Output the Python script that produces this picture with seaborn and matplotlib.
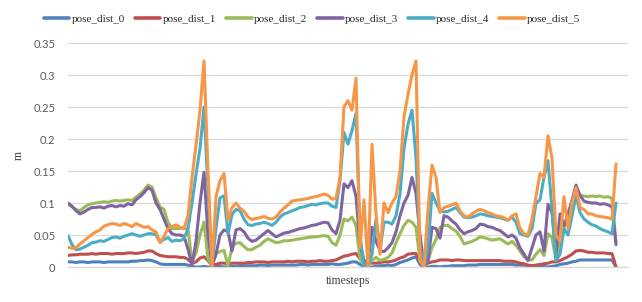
import numpy as np
import pandas as pd
import matplotlib.pyplot as plt
import seaborn as sns

# -------- Data (one value per ~4 px step) --------
pose_dist_0 = [
    0.008, 0.008, 0.007, 0.008, 0.008, 0.007, 0.008, 0.008, 0.008, 0.007,
    0.008, 0.008, 0.008, 0.008, 0.008, 0.008, 0.009, 0.009, 0.010, 0.010,
    0.011, 0.010, 0.008, 0.005, 0.004, 0.004, 0.004, 0.004, 0.004, 0.004,
    0.003, 0.001, 0.000, 0.000, 0.001, 0.000, 0.000, 0.001, 0.001, 0.000,
    0.000, 0.001, 0.001, 0.002, 0.002, 0.002, 0.002, 0.002, 0.003, 0.003,
    0.002, 0.003, 0.003, 0.003, 0.003, 0.003, 0.003, 0.003, 0.004, 0.004,
    0.003, 0.004, 0.004, 0.004, 0.004, 0.004, 0.005, 0.004, 0.004, 0.005,
    0.006, 0.008, 0.008, 0.004, 0.001, 0.000, 0.000, 0.001, 0.002, 0.002,
    0.003, 0.002, 0.004, 0.007, 0.009, 0.011, 0.014, 0.016, 0.004, 0.000,
    0.000, 0.001, 0.001, 0.000, 0.001, 0.001, 0.002, 0.002, 0.002, 0.002,
    0.003, 0.003, 0.003, 0.004, 0.004, 0.004, 0.004, 0.004, 0.004, 0.004,
    0.004, 0.004, 0.003, 0.003, 0.003, 0.002, 0.002, 0.002, 0.001, 0.001,
    0.000, 0.001, 0.002, 0.004, 0.005, 0.006, 0.008, 0.009, 0.011, 0.011,
    0.011, 0.011, 0.011, 0.011, 0.011, 0.011, 0.011, 0.000,
]
pose_dist_1 = [
    0.018, 0.019, 0.019, 0.020, 0.020, 0.020, 0.021, 0.020, 0.021, 0.021,
    0.021, 0.020, 0.021, 0.021, 0.021, 0.022, 0.022, 0.021, 0.022, 0.023,
    0.025, 0.025, 0.021, 0.018, 0.017, 0.016, 0.016, 0.016, 0.015, 0.015,
    0.012, 0.006, 0.008, 0.014, 0.016, 0.010, 0.003, 0.004, 0.006, 0.006,
    0.005, 0.006, 0.006, 0.006, 0.006, 0.007, 0.007, 0.008, 0.008, 0.008,
    0.007, 0.008, 0.008, 0.008, 0.008, 0.009, 0.008, 0.009, 0.009, 0.009,
    0.008, 0.009, 0.009, 0.010, 0.009, 0.009, 0.010, 0.011, 0.014, 0.017,
    0.018, 0.020, 0.021, 0.013, 0.010, 0.008, 0.006, 0.006, 0.007, 0.008,
    0.008, 0.009, 0.011, 0.014, 0.016, 0.020, 0.021, 0.021, 0.008, 0.004,
    0.006, 0.008, 0.009, 0.011, 0.011, 0.011, 0.010, 0.011, 0.011, 0.010,
    0.010, 0.010, 0.010, 0.010, 0.010, 0.010, 0.010, 0.010, 0.010, 0.009,
    0.009, 0.009, 0.008, 0.006, 0.005, 0.003, 0.002, 0.003, 0.004, 0.005,
    0.006, 0.008, 0.008, 0.010, 0.013, 0.016, 0.020, 0.025, 0.026, 0.025,
    0.023, 0.023, 0.022, 0.022, 0.022, 0.021, 0.021, 0.000,
]
pose_dist_2 = [
    0.098, 0.094, 0.090, 0.088, 0.093, 0.097, 0.099, 0.100, 0.101, 0.102,
    0.101, 0.103, 0.104, 0.103, 0.104, 0.105, 0.104, 0.109, 0.114, 0.120,
    0.128, 0.125, 0.108, 0.094, 0.090, 0.070, 0.060, 0.060, 0.060, 0.062,
    0.058, 0.010, 0.022, 0.050, 0.070, 0.012, 0.004, 0.021, 0.024, 0.026,
    0.002, 0.031, 0.037, 0.038, 0.032, 0.027, 0.027, 0.031, 0.034, 0.040,
    0.044, 0.041, 0.038, 0.039, 0.041, 0.041, 0.042, 0.043, 0.044, 0.045,
    0.046, 0.047, 0.047, 0.048, 0.049, 0.048, 0.038, 0.034, 0.050, 0.075,
    0.072, 0.078, 0.065, 0.012, 0.003, 0.005, 0.010, 0.015, 0.010, 0.012,
    0.015, 0.022, 0.038, 0.052, 0.065, 0.073, 0.070, 0.062, 0.010, 0.000,
    0.010, 0.030, 0.043, 0.062, 0.065, 0.065, 0.060, 0.056, 0.048, 0.036,
    0.038, 0.040, 0.043, 0.047, 0.046, 0.044, 0.042, 0.043, 0.044, 0.040,
    0.036, 0.040, 0.034, 0.025, 0.016, 0.012, 0.011, 0.020, 0.027, 0.018,
    0.052, 0.046, 0.010, 0.047, 0.062, 0.075, 0.090, 0.108, 0.112, 0.111,
    0.110, 0.111, 0.110, 0.111, 0.109, 0.110, 0.107, 0.038,
]
pose_dist_3 = [
    0.100, 0.095, 0.088, 0.083, 0.086, 0.090, 0.093, 0.093, 0.094, 0.092,
    0.095, 0.096, 0.094, 0.096, 0.095, 0.099, 0.097, 0.105, 0.110, 0.116,
    0.124, 0.120, 0.100, 0.090, 0.075, 0.060, 0.052, 0.050, 0.050, 0.048,
    0.028, 0.003, 0.040, 0.100, 0.148, 0.050, 0.002, 0.020, 0.050, 0.058,
    0.055, 0.025, 0.058, 0.060, 0.055, 0.045, 0.040, 0.042, 0.047, 0.052,
    0.057, 0.052, 0.047, 0.050, 0.053, 0.054, 0.056, 0.058, 0.060, 0.061,
    0.063, 0.065, 0.066, 0.068, 0.070, 0.069, 0.058, 0.052, 0.073, 0.130,
    0.124, 0.135, 0.110, 0.035, 0.010, 0.006, 0.062, 0.040, 0.026, 0.024,
    0.030, 0.038, 0.055, 0.080, 0.100, 0.112, 0.140, 0.115, 0.050, 0.000,
    0.010, 0.062, 0.060, 0.045, 0.080, 0.078, 0.072, 0.067, 0.058, 0.052,
    0.055, 0.057, 0.060, 0.067, 0.066, 0.063, 0.062, 0.059, 0.057, 0.052,
    0.047, 0.050, 0.045, 0.030, 0.020, 0.010, 0.030, 0.050, 0.055, 0.025,
    0.098, 0.085, 0.020, 0.083, 0.065, 0.083, 0.104, 0.128, 0.112, 0.103,
    0.101, 0.100, 0.100, 0.098, 0.099, 0.097, 0.094, 0.035,
]
pose_dist_4 = [
    0.049, 0.035, 0.027, 0.028, 0.031, 0.034, 0.038, 0.039, 0.041, 0.040,
    0.043, 0.046, 0.047, 0.045, 0.048, 0.050, 0.052, 0.050, 0.048, 0.050,
    0.052, 0.052, 0.050, 0.039, 0.043, 0.046, 0.040, 0.042, 0.041, 0.044,
    0.060, 0.100, 0.145, 0.185, 0.250, 0.120, 0.003, 0.060, 0.108, 0.111,
    0.052, 0.082, 0.090, 0.088, 0.075, 0.066, 0.065, 0.067, 0.068, 0.070,
    0.068, 0.065, 0.070, 0.078, 0.083, 0.085, 0.088, 0.090, 0.093, 0.094,
    0.096, 0.098, 0.097, 0.099, 0.100, 0.100, 0.095, 0.093, 0.135, 0.210,
    0.192, 0.213, 0.240, 0.050, 0.002, 0.000, 0.020, 0.075, 0.026, 0.070,
    0.070, 0.067, 0.080, 0.114, 0.185, 0.223, 0.245, 0.170, 0.030, 0.000,
    0.030, 0.115, 0.100, 0.088, 0.086, 0.087, 0.090, 0.093, 0.085, 0.078,
    0.077, 0.078, 0.080, 0.083, 0.082, 0.080, 0.079, 0.078, 0.077, 0.075,
    0.073, 0.078, 0.070, 0.052, 0.050, 0.048, 0.060, 0.100, 0.105, 0.140,
    0.166, 0.090, 0.010, 0.020, 0.060, 0.050, 0.080, 0.112, 0.085, 0.075,
    0.070, 0.066, 0.064, 0.060, 0.057, 0.055, 0.052, 0.100,
]
pose_dist_5 = [
    0.031, 0.029, 0.030, 0.036, 0.041, 0.046, 0.051, 0.055, 0.058, 0.064,
    0.066, 0.068, 0.067, 0.065, 0.068, 0.066, 0.063, 0.068, 0.065, 0.062,
    0.063, 0.058, 0.055, 0.038, 0.048, 0.060, 0.063, 0.066, 0.062, 0.060,
    0.080, 0.140, 0.190, 0.245, 0.322, 0.150, 0.000, 0.110, 0.135, 0.146,
    0.073, 0.093, 0.100, 0.092, 0.087, 0.078, 0.074, 0.076, 0.077, 0.079,
    0.076, 0.075, 0.078, 0.086, 0.092, 0.097, 0.103, 0.104, 0.105, 0.106,
    0.107, 0.109, 0.110, 0.112, 0.114, 0.112, 0.106, 0.107, 0.140, 0.250,
    0.260, 0.245, 0.295, 0.030, 0.105, 0.000, 0.192, 0.083, 0.020, 0.100,
    0.085, 0.100, 0.110, 0.150, 0.235, 0.270, 0.300, 0.322, 0.010, 0.000,
    0.090, 0.159, 0.140, 0.085, 0.093, 0.095, 0.097, 0.100, 0.088, 0.080,
    0.078, 0.083, 0.087, 0.090, 0.088, 0.085, 0.083, 0.080, 0.079, 0.077,
    0.073, 0.080, 0.083, 0.060, 0.052, 0.050, 0.075, 0.110, 0.146, 0.140,
    0.205, 0.170, 0.050, 0.040, 0.110, 0.060, 0.100, 0.124, 0.093, 0.090,
    0.083, 0.083, 0.080, 0.079, 0.078, 0.077, 0.075, 0.161,
]

series_names = ["pose_dist_0", "pose_dist_1", "pose_dist_2",
                "pose_dist_3", "pose_dist_4", "pose_dist_5"]
series_colors = ["#4F81BD", "#C0504D", "#9BBB59", "#8064A2", "#4BACC6", "#F79646"]
ytick_values = [0, 0.05, 0.1, 0.15, 0.2, 0.25, 0.3, 0.35]
ytick_labels = ["0", "0.05", "0.1", "0.15", "0.2", "0.25", "0.3", "0.35"]

# -------- Prepare data --------
all_series = [pose_dist_0, pose_dist_1, pose_dist_2, pose_dist_3, pose_dist_4, pose_dist_5]
n = len(pose_dist_0)
df = pd.DataFrame({
    "timestep": np.tile(np.arange(n), len(all_series)),
    "value": np.concatenate(all_series),
    "series": np.repeat(series_names, n),
})

# -------- Plot --------
sns.set_style("white")
serif = "Liberation Serif"
plt.rcParams["font.family"] = ["Lato", "DejaVu Sans"]

fig = plt.figure(figsize=(6.42, 3.02), dpi=100)
ax = fig.add_axes([68 / 642, 35 / 302, 560 / 642, 224 / 302])

sns.lineplot(data=df, x="timestep", y="value", hue="series",
             palette=series_colors, linewidth=2.2, ax=ax,
             estimator=None, sort=False)

ax.set_xlim(0, n + 2)
ax.set_ylim(0, 0.35)
ax.set_xticks([])
ax.set_yticks(ytick_values)
ax.set_yticklabels(ytick_labels, fontsize=8, color="#595959")
ax.tick_params(axis="y", length=0, pad=9)

ax.yaxis.grid(True, color="#D9D9D9", linewidth=0.9)
ax.set_axisbelow(True)
for side in ["top", "right", "left"]:
    ax.spines[side].set_visible(False)
ax.spines["bottom"].set_color("#D9D9D9")
ax.spines["bottom"].set_linewidth(0.9)

ax.set_xlabel("timesteps", family=serif, fontsize=8.5, color="#404040", labelpad=6)
ax.set_ylabel("m", family=serif, fontsize=8.5, color="#404040", labelpad=6)

handles, labels = ax.get_legend_handles_labels()
ax.legend(handles, labels, loc="center", ncol=6, frameon=False,
          bbox_to_anchor=(312 / 642, 1 - 19 / 302), bbox_transform=fig.transFigure,
          prop={"family": serif, "size": 8}, handlelength=2.3,
          handletextpad=0.2, columnspacing=0.9)
for line in ax.get_legend().get_lines():
    line.set_linewidth(2.6)

fig.savefig("out.png", dpi=100)
